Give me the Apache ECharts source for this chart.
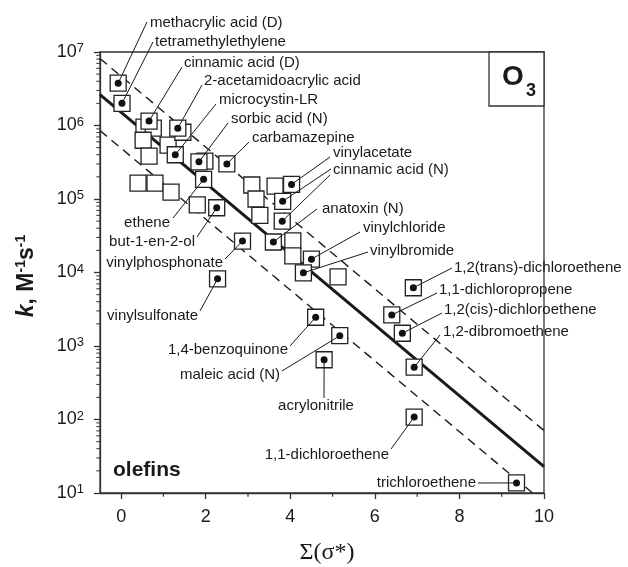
<!DOCTYPE html>
<html><head><meta charset="utf-8">
<script src="https://cdn.jsdelivr.net/npm/echarts@6/dist/echarts.min.js"></script>
<style>html,body{margin:0;padding:0;background:#fff}#c{width:628px;height:567px}</style>
</head><body><div id="c"></div>
<script>
// ---- data ----
const labeledNames = ['methacrylic acid (D)','tetramethylethylene','cinnamic acid (D)','2-acetamidoacrylic acid','microcystin-LR','sorbic acid (N)','carbamazepine','ethene','but-1-en-2-ol','vinylphosphonate','vinylsulfonate','vinylacetate','cinnamic acid (N)','cinnamic acid (N)','anatoxin (N)','vinylchloride','vinylbromide','1,4-benzoquinone','maleic acid (N)','acrylonitrile','1,2(trans)-dichloroethene','1,1-dichloropropene','1,2(cis)-dichloroethene','1,2-dibromoethene','1,1-dichloroethene','trichloroethene'];
const labeledX = [-0.07,0.02,0.66,1.34,1.28,1.84,2.50,1.95,2.26,2.87,2.28,4.03,3.82,3.81,3.60,4.50,4.31,4.60,5.17,4.80,6.91,6.40,6.65,6.93,6.93,9.35];
const labeledK = [3.76e6,2.0e6,1.15e6,9.2e5,4.0e5,3.2e5,3.0e5,1.85e5,7.6e4,2.68e4,8.2e3,1.58e5,9.3e4,5.0e4,2.6e4,1.52e4,9.9e3,2.46e3,1.38e3,6.5e2,6.2e3,2.65e3,1.49e3,5.15e2,1.08e2,13.7];
const unlabeledX = [0.54,0.76,0.52,0.66,1.11,1.46,1.98,0.40,0.80,1.18,1.80,3.09,3.19,3.28,3.64,4.06,4.06,5.13];
const unlabeledK = [9.5e5,9.2e5,6.3e5,3.83e5,5.4e5,8.1e5,3.27e5,1.64e5,1.64e5,1.24e5,8.3e4,1.55e5,1.0e5,6.0e4,1.5e5,2.7e4,1.68e4,8.7e3];
const xTicks = [0,2,4,6,8,10];
const xMinorTicks = [1,3,5,7,9];
const yTicks = [1e1,1e2,1e3,1e4,1e5,1e6,1e7];
const fitIntercept = 6.18;   // log10 k at x=0
const fitSlope = -0.482;
const bandOffset = 0.49;     // log10 units
const xRange = [-0.5, 10];

// ---- layout (label positions, px) ----
const labelLayout = [
 [150,23,'left',147,22],[155,42,'left',153,42],[184,63,'left',182,67],[204,81,'left',202,85],
 [219,100,'left',216,104],[231,119,'left',228,123],[252,138,'left',249,142],
 [170,223,'right',173,218],[195,242,'right',197,237],[223,263,'right',225,259],[198,316,'right',200,311],
 [333,153,'left',330,157],[333,170,'left',331,169],[null,null,null,330,175],
 [322,209,'left',317,209],[363,228,'left',360,232],[370,251,'left',368,252],
 [288,350,'right',290,346],[280,375,'right',282,371],[316,406,'center',324,398],
 [454,268,'left',452,268],[439,290,'left',437,293],[444,310,'left',442,313],[443,332,'left',440,335],
 [389,455,'right',391,449],[476,483,'right',478,483]
];

const yMinor = [];
for (let d = 1; d < 7; d++) for (let m = 2; m <= 9; m++) yMinor.push(m * Math.pow(10, d));

function fitLine(off) {
  return xRange.map(x => [x, Math.pow(10, fitIntercept + off + fitSlope * x)]);
}

const FONT = 'Liberation Sans, Arial, sans-serif';
const INK = '#1a1a1a';
const AX = '#333';

const chart = echarts.init(document.getElementById('c'), null, {renderer: 'canvas'});
chart.setOption({
  animation: false,
  backgroundColor: '#fff',
  grid: {left: 100, right: 84, top: 52, bottom: 74, show: true, borderColor: AX, borderWidth: 1.3, backgroundColor: 'transparent'},
  xAxis: {
    type: 'value', min: xRange[0], max: xRange[1],
    axisLine: {show: true, onZero: false, lineStyle: {color: AX, width: 1.3}},
    axisTick: {show: true, length: 6, inside: false, customValues: xTicks, lineStyle: {color: AX, width: 1.3}},
    axisLabel: {customValues: xTicks, margin: 15, fontSize: 18, color: INK, fontFamily: FONT},
    splitLine: {show: false}
  },
  yAxis: {
    type: 'log', logBase: 10, min: 10, max: 1e7, splitNumber: 6,
    axisLine: {show: true, onZero: false, lineStyle: {color: AX, width: 1.3}},
    axisTick: {show: true, length: 6, inside: false, lineStyle: {color: AX, width: 1.3}},
    axisLabel: {
      margin: 16, color: INK, fontFamily: FONT,
      formatter: v => '{b|10}{s|' + Math.round(Math.log10(v)) + '}',
      rich: {b: {fontSize: 18, fontFamily: FONT, color: INK, lineHeight: 20}, s: {fontSize: 13, fontFamily: FONT, color: INK, verticalAlign: 'top', lineHeight: 14}}
    },
    splitLine: {show: false}
  },
  series: [
    {type: 'line', data: fitLine(bandOffset), showSymbol: false, z: 1, lineStyle: {color: INK, width: 1.4, type: [9, 6]}},
    {type: 'line', data: fitLine(-bandOffset), showSymbol: false, z: 1, lineStyle: {color: INK, width: 1.4, type: [9, 6]}},
    {type: 'line', data: fitLine(0), showSymbol: false, z: 1, lineStyle: {color: INK, width: 3}},
    {type: 'scatter', z: 2, symbol: 'rect', symbolSize: 16, data: unlabeledX.map((x, i) => [x, unlabeledK[i]]),
     itemStyle: {color: '#fff', borderColor: '#222', borderWidth: 1.3, opacity: 1}},
    {type: 'scatter', z: 3, symbol: 'rect', symbolSize: 16, data: labeledX.map((x, i) => [x, labeledK[i]]),
     itemStyle: {color: '#fff', borderColor: '#222', borderWidth: 1.3, opacity: 1}},
    {type: 'custom', z: 4, clip: false, data: labeledX.map((x, i) => [x, labeledK[i], i]),
     renderItem: function (params, api) {
       const p = api.coord([api.value(0), api.value(1)]);
       const i = api.value(2);
       const L = labelLayout[i];
       const children = [{type: 'line', shape: {x1: L[3], y1: L[4], x2: p[0], y2: p[1]}, style: {stroke: INK, lineWidth: 1}}];
       if (L[0] !== null) {
         children.push({type: 'text', x: L[0], y: L[1], style: {text: labeledNames[i], fontSize: 15, fontFamily: FONT, fill: INK, align: L[2], verticalAlign: 'middle'}});
       }
       return {type: 'group', children: children};
     }},
    {type: 'scatter', z: 5, symbol: 'circle', symbolSize: 7, data: labeledX.map((x, i) => [x, labeledK[i]]), itemStyle: {color: '#111', opacity: 1}},
    {type: 'custom', z: 6, clip: false, data: yMinor.map(v => [xRange[0], v]),
     renderItem: function (params, api) {
       const p = api.coord([api.value(0), api.value(1)]);
       return {type: 'line', shape: {x1: p[0] - 3.7, y1: p[1], x2: p[0], y2: p[1]}, style: {stroke: AX, lineWidth: 1}};
     }},
    {type: 'custom', z: 6, clip: false, data: xMinorTicks.map(v => [v, 10]),
     renderItem: function (params, api) {
       const p = api.coord([api.value(0), api.value(1)]);
       return {type: 'line', shape: {x1: p[0], y1: p[1], x2: p[0], y2: p[1] + 3.7}, style: {stroke: AX, lineWidth: 1.2}};
     }}
  ],
  graphic: [
    {type: 'rect', z: 10, shape: {x: 489, y: 52, width: 55, height: 54}, style: {fill: '#fff', stroke: AX, lineWidth: 1.3}},
    {type: 'text', z: 11, x: 502, y: 77, style: {text: 'O', fontSize: 28, fontWeight: 'bold', fontFamily: FONT, fill: INK, verticalAlign: 'middle'}},
    {type: 'text', z: 11, x: 526, y: 91, style: {text: '3', fontSize: 18, fontWeight: 'bold', fontFamily: FONT, fill: INK, verticalAlign: 'middle'}},
    {type: 'text', z: 11, x: 113, y: 470, style: {text: 'olefins', fontSize: 21, fontWeight: 'bold', fontFamily: FONT, fill: INK, verticalAlign: 'middle'}},
    {type: 'text', z: 11, x: 327, y: 553, style: {text: 'Σ(σ*)', fontSize: 24, fontFamily: 'Liberation Serif, Times New Roman, serif', fill: INK, align: 'center', verticalAlign: 'middle'}},
    {type: 'text', z: 11, x: 27, y: 276, rotation: Math.PI / 2, style: {
      text: '{k|k}{t|, M}{s|-1}{t|s}{s|-1}', align: 'center', verticalAlign: 'middle',
      rich: {
        k: {fontSize: 23, fontWeight: 'bold', fontStyle: 'italic', fontFamily: FONT, fill: INK, lineHeight: 26},
        t: {fontSize: 23, fontWeight: 'bold', fontFamily: FONT, fill: INK, lineHeight: 26},
        s: {fontSize: 14, fontWeight: 'bold', fontFamily: FONT, fill: INK, verticalAlign: 'top', lineHeight: 16}
      }}}
  ]
});
</script>
</body></html>
